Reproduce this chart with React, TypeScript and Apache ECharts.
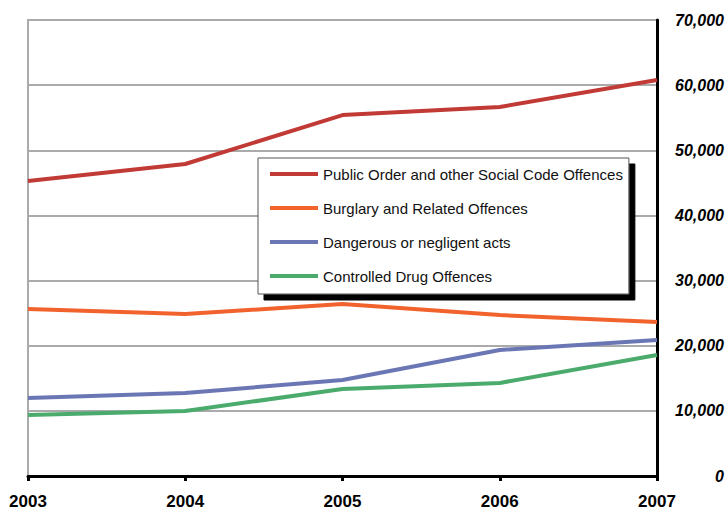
import React, { useEffect, useRef } from "react";
import * as echarts from "echarts";

const years = ["2003", "2004", "2005", "2006", "2007"];
const publicOrder = [45300, 47900, 55400, 56650, 60800];
const burglary = [25650, 24870, 26400, 24700, 23650];
const dangerous = [11970, 12740, 14740, 19340, 20880];
const drugs = [9360, 9980, 13360, 14280, 18580];

const seriesNames = [
  "Public Order and other Social Code Offences",
  "Burglary and Related Offences",
  "Dangerous or negligent acts",
  "Controlled Drug Offences",
];
const seriesColors = ["#c13a36", "#f2622d", "#6b77b4", "#4aab6d"];
const seriesData = [publicOrder, burglary, dangerous, drugs];

const FONT = "'Liberation Sans', Arial, Helvetica, sans-serif";

export default function App() {
  const ref = useRef<HTMLDivElement>(null);
  useEffect(() => {
    if (!ref.current) return;
    const chart = echarts.init(ref.current, undefined, { renderer: "svg" });
    chart.setOption({
      animation: false,
      backgroundColor: "#ffffff",
      grid: {
        left: 28,
        right: 69,
        top: 20,
        bottom: 35,
        show: true,
        borderColor: "#aaaaaa",
        borderWidth: 2,
        backgroundColor: "transparent",
      },
      legend: {
        orient: "vertical",
        left: 258,
        top: 158,
        padding: [7, 6, 9, 12],
        backgroundColor: "#ffffff",
        borderColor: "#555555",
        borderWidth: 1,
        shadowColor: "#000000",
        shadowBlur: 0,
        shadowOffsetX: 6,
        shadowOffsetY: 6,
        icon: "rect",
        itemWidth: 48,
        itemHeight: 4,
        itemGap: 16,
        itemTextGap: 2,
        selectedMode: false,
        data: seriesNames,
        textStyle: {
          fontFamily: FONT,
          fontSize: 15,
          lineHeight: 18,
          color: "#111111",
        },
      },
      xAxis: {
        type: "category",
        data: years,
        boundaryGap: false,
        axisLine: { show: true, lineStyle: { color: "#000000", width: 3 } },
        axisTick: {
          show: true,
          alignWithLabel: true,
          length: 5,
          lineStyle: { color: "#000000", width: 3 },
        },
        axisLabel: {
          margin: 17,
          fontFamily: FONT,
          fontSize: 17,
          fontWeight: "bold",
          color: "#000000",
        },
        splitLine: { show: false },
      },
      yAxis: {
        type: "value",
        position: "right",
        min: 0,
        max: 70000,
        interval: 10000,
        axisLine: { show: true, lineStyle: { color: "#000000", width: 3 } },
        axisTick: { show: false },
        axisLabel: {
          align: "right",
          margin: 67,
          fontFamily: FONT,
          fontSize: 16,
          fontWeight: "bold",
          fontStyle: "italic",
          color: "#000000",
          formatter: (v: number) => v.toLocaleString("en-US"),
        },
        splitLine: { show: true, lineStyle: { color: "#aaaaaa", width: 2 } },
      },
      series: seriesNames.map((name, i) => ({
        name,
        type: "line",
        data: seriesData[i],
        symbol: "none",
        showSymbol: false,
        color: seriesColors[i],
        lineStyle: { width: 4, color: seriesColors[i] },
        z: 2,
      })),
    });
    return () => chart.dispose();
  }, []);
  return (
    <div
      ref={ref}
      style={{ position: "absolute", left: 0, top: 0, width: 727, height: 511 }}
    />
  );
}
